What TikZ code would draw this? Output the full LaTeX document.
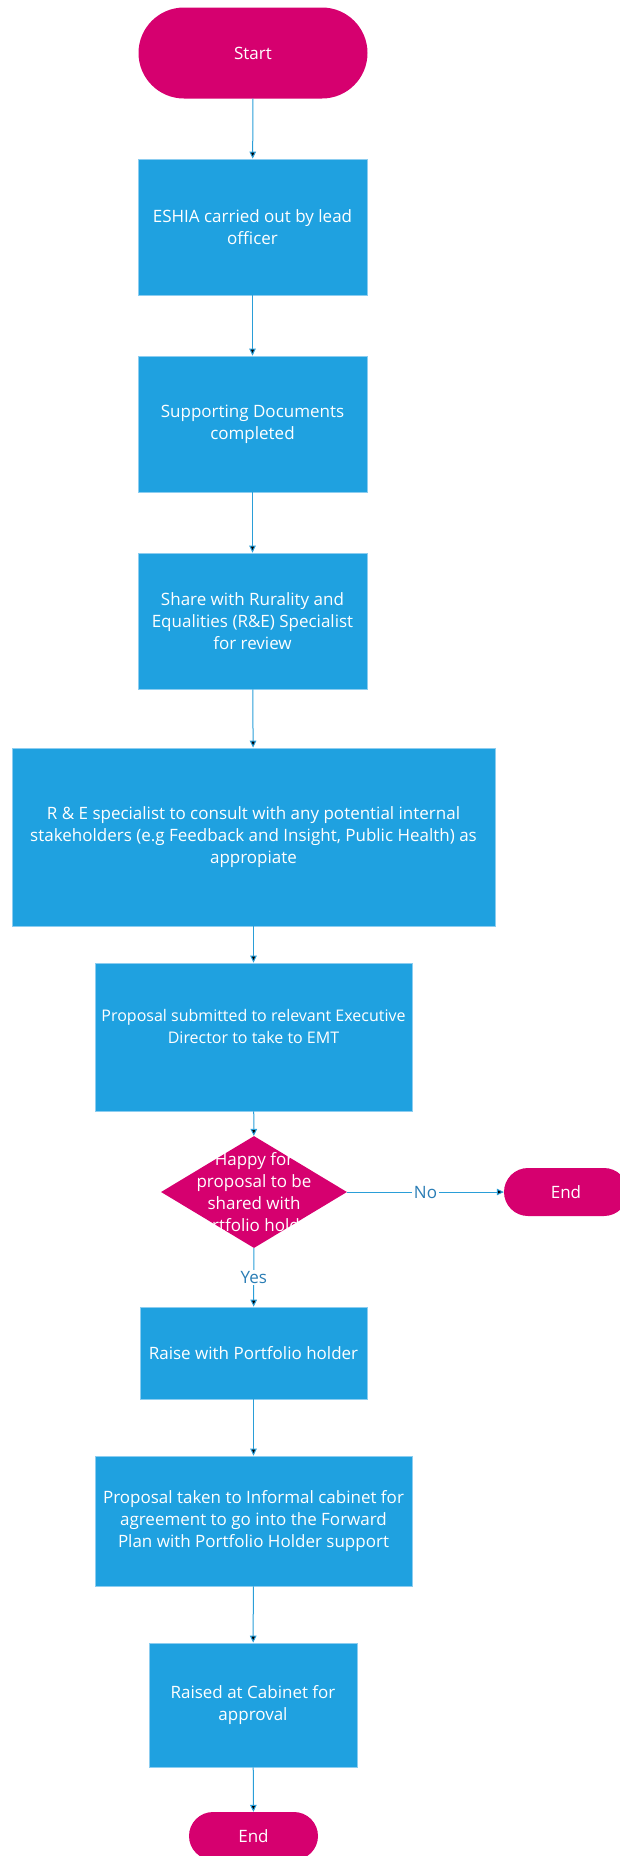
\documentclass[tikz,border=0pt]{standalone}
\usepackage{fontspec}
\setmainfont{Open Sans}
\usetikzlibrary{shapes.geometric,shapes.misc,arrows.meta}
\definecolor{termpink}{HTML}{D6006F}
\definecolor{stepblue}{HTML}{1FA1E0}
\definecolor{stepedge}{HTML}{8CCDF0}
\definecolor{linkblue}{HTML}{2A9ED8}
\definecolor{labelblue}{HTML}{2A7DB5}

\begin{document}
\begin{tikzpicture}[x=1pt,y=-1pt,
  every node/.style={font=\fontsize{17}{22}\selectfont,text=white,align=center,inner sep=0pt},
  terminal/.style={shape=rounded rectangle,fill=termpink},
  process/.style={shape=rectangle,fill=stepblue,draw=stepedge,line width=0.8pt},
  decision/.style={shape=diamond,fill=termpink},
  edgelabel/.style={fill=white,text=labelblue,inner sep=1.5pt},
  flow/.style={draw=linkblue,line width=1pt,-{Triangle[length=7pt,width=6.5pt]}}]
\useasboundingbox (0,0) rectangle (620,1856);

\node(0) at (253,53)[terminal,minimum width=229,minimum height=91]     {Start};
\node(1) at (252.5,227)[process,minimum width=229,minimum height=136]  {ESHIA carried out by lead\\officer};
\node(2) at (252.5,424)[process,minimum width=229,minimum height=136]  {Supporting Documents\\completed};
\node(3) at (252.5,621)[process,minimum width=229,minimum height=136]  {Share with Rurality and\\Equalities (R\&E) Specialist\\for review};
\node(4) at (253.5,837)[process,minimum width=483,minimum height=178]  {R \& E specialist to consult with any potential internal\\stakeholders (e.g Feedback and Insight, Public Health) as\\appropiate};
\node(5) at (253.5,1037)[process,minimum width=317,minimum height=148,
  font=\fontsize{16}{22}\selectfont]                                  {Proposal submitted to relevant Executive\\Director to take to EMT\\{}};
\node(6) at (254,1192)[decision,minimum width=186,minimum height=112]  {};
\node(6t) at (6.center)                                               {Happy for\\proposal to be\\shared with\\Portfolio holder};
\node(7) at (566,1192)[terminal,minimum width=124,minimum height=48]   {End};
\node(8) at (253.5,1353)[process,minimum width=227,minimum height=92]  {Raise with Portfolio holder};
\node(9) at (253.5,1521)[process,minimum width=317,minimum height=130] {Proposal taken to Informal cabinet for\\agreement to go into the Forward\\Plan with Portfolio Holder support};
\node(10) at (253,1705)[process,minimum width=208,minimum height=124] {Raised at Cabinet for\\approval};
\node(11) at (253.5,1836)[terminal,minimum width=129,minimum height=48] {End};

\path [flow]
  (0)      edge                                (1)
  (1)      edge                                (2)
  (2)      edge                                (3)
  (3)      edge                                (4)
  (4)      edge                                (5)
  (5)      edge                                (6)
  (6)      edge     node [edgelabel]  {No}     (7)
  (6)      edge     node [edgelabel]  {Yes}    (8)
  (8)      edge                                (9)
  (9)      edge                                (10)
  (10)     edge                                (11);

\end{tikzpicture}
\end{document}
